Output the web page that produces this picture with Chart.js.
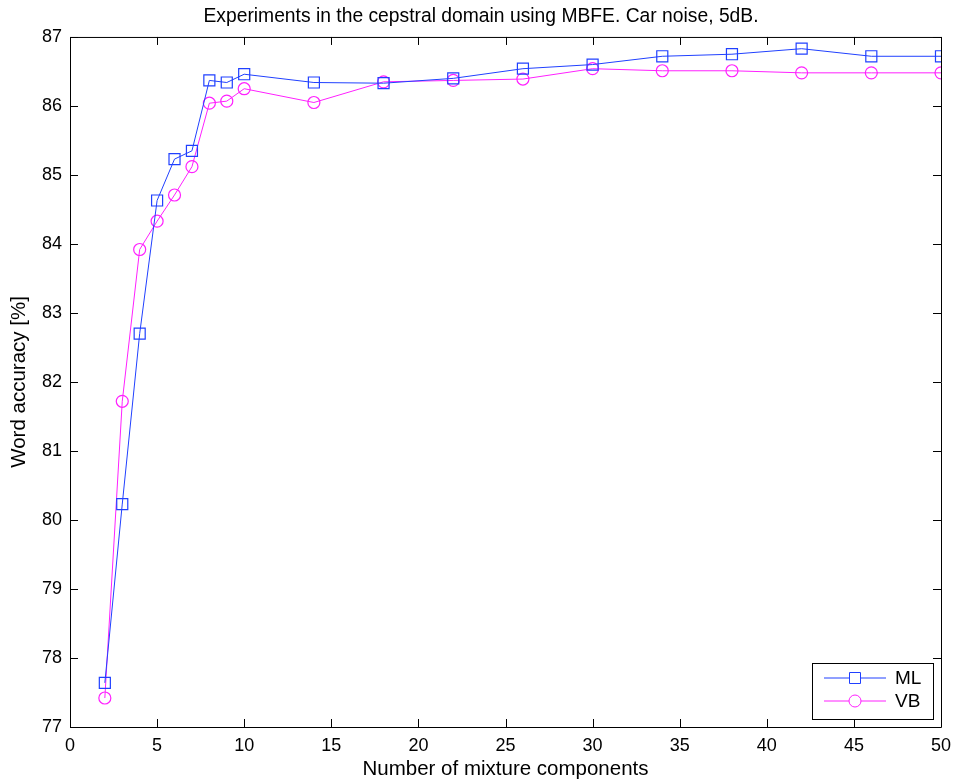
<!DOCTYPE html>
<html>
<head>
<meta charset="utf-8">
<script src="https://cdn.jsdelivr.net/npm/chart.js@4"></script>
<style>
  html, body { margin: 0; padding: 0; background: #fff; }
</style>
</head>
<body>
<canvas id="grafico" width="962" height="784"></canvas>
<script>
const components = [2, 3, 4, 5, 6, 7, 8, 9, 10, 14, 18, 22, 26, 30, 34, 38, 42, 46, 50];
const accML = [77.64, 80.23, 82.70, 84.63, 85.23, 85.35, 86.37, 86.34, 86.46, 86.34, 86.33, 86.40, 86.54, 86.60, 86.72, 86.75, 86.83, 86.72, 86.72];
const accVB = [77.42, 81.72, 83.92, 84.33, 84.71, 85.12, 86.04, 86.07, 86.25, 86.05, 86.35, 86.37, 86.39, 86.54, 86.51, 86.51, 86.48, 86.48, 86.48];
const xTicks = [0, 5, 10, 15, 20, 25, 30, 35, 40, 45, 50];
const yTicks = [77, 78, 79, 80, 81, 82, 83, 84, 85, 86, 87];

const corML = '#2040ff';
const corVB = '#ff20ff';
const fonte = '"Liberation Sans", Arial, Helvetica, sans-serif';

function pontos(ys) {
  return components.map((x, i) => ({ x: x, y: ys[i] }));
}

// moldura estilo matlab: caixa completa + ticks para dentro
const moldura = {
  id: 'moldura',
  afterDraw(chart) {
    const ctx = chart.ctx;
    const a = chart.chartArea;
    const sx = chart.scales.x, sy = chart.scales.y;
    const tl = 8;
    ctx.save();
    ctx.strokeStyle = '#000';
    ctx.lineWidth = 1;
    ctx.beginPath();
    ctx.rect(a.left + 0.5, a.top + 0.5, a.right - a.left, a.bottom - a.top);
    xTicks.forEach(v => {
      const px = Math.round(sx.getPixelForValue(v)) + 0.5;
      ctx.moveTo(px, a.bottom); ctx.lineTo(px, a.bottom - tl);
      ctx.moveTo(px, a.top); ctx.lineTo(px, a.top + tl);
    });
    yTicks.forEach(v => {
      const py = Math.round(sy.getPixelForValue(v)) + 0.5;
      ctx.moveTo(a.left, py); ctx.lineTo(a.left + tl, py);
      ctx.moveTo(a.right, py); ctx.lineTo(a.right - tl, py);
    });
    ctx.stroke();
    ctx.restore();
  }
};

// legenda dentro da area, canto inferior direito
const legendaBox = {
  id: 'legendaBox',
  afterDraw(chart) {
    const ctx = chart.ctx;
    const a = chart.chartArea;
    const w = 121, h = 56;
    const x0 = a.right - 8 - w, y0 = a.bottom - 8 - h;
    ctx.save();
    ctx.fillStyle = '#fff';
    ctx.fillRect(x0, y0, w, h);
    ctx.strokeStyle = '#000';
    ctx.lineWidth = 1;
    ctx.strokeRect(Math.round(x0) + 0.5, Math.round(y0) + 0.5, w, h);
    ctx.font = '19px ' + fonte;
    ctx.textBaseline = 'middle';
    chart.data.datasets.forEach((ds, i) => {
      const cy = y0 + 15 + i * 23;
      const lx = x0 + 12;
      ctx.strokeStyle = ds.borderColor;
      ctx.lineWidth = 1;
      ctx.beginPath();
      ctx.moveTo(lx, cy); ctx.lineTo(lx + 62, cy);
      ctx.stroke();
      const mx = lx + 31;
      ctx.beginPath();
      if (ds.pointStyle === 'rect') {
        ctx.rect(mx - 5.5, cy - 5.5, 11, 11);
      } else {
        ctx.arc(mx, cy, 6, 0, Math.PI * 2);
      }
      ctx.fillStyle = '#fff';
      ctx.fill();
      ctx.stroke();
      ctx.fillStyle = '#000';
      ctx.fillText(ds.label, lx + 71, cy + 1);
    });
    ctx.restore();
  }
};

new Chart(document.getElementById('grafico'), {
  type: 'line',
  data: {
    datasets: [
      {
        label: 'ML',
        data: pontos(accML),
        borderColor: corML,
        backgroundColor: 'rgba(0,0,0,0)',
        borderWidth: 1,
        pointStyle: 'rect',
        pointRadius: 7.8,
        pointBorderWidth: 1.2,
        pointBackgroundColor: 'rgba(0,0,0,0)',
        pointBorderColor: corML,
        tension: 0
      },
      {
        label: 'VB',
        data: pontos(accVB),
        borderColor: corVB,
        backgroundColor: 'rgba(0,0,0,0)',
        borderWidth: 1,
        pointStyle: 'circle',
        pointRadius: 6,
        pointBorderWidth: 1.2,
        pointBackgroundColor: 'rgba(0,0,0,0)',
        pointBorderColor: corVB,
        tension: 0
      }
    ]
  },
  options: {
    responsive: false,
    animation: false,
    layout: { padding: 0 },
    plugins: {
      legend: { display: false },
      tooltip: { enabled: false },
      title: {
        display: true,
        text: 'Experiments in the cepstral domain using MBFE. Car noise, 5dB.',
        color: '#000',
        font: { family: fonte, size: 19.3, weight: 'normal' },
        padding: { top: 5, bottom: 8.8 }
      }
    },
    scales: {
      x: {
        type: 'linear',
        min: 0,
        max: 50,
        afterBuildTicks(scale) { scale.ticks = xTicks.map(v => ({ value: v })); },
        afterFit(scale) { scale.height = 57; },
        grid: { display: false, drawTicks: false },
        border: { display: false },
        ticks: {
          color: '#000',
          padding: 8,
          maxRotation: 0,
          font: { family: fonte, size: 18 }
        },
        title: {
          display: true,
          text: 'Number of mixture components',
          color: '#000',
          font: { family: fonte, size: 20.5 },
          padding: { top: 0, bottom: 2.5 }
        }
      },
      y: {
        type: 'linear',
        min: 77,
        max: 87,
        afterBuildTicks(scale) { scale.ticks = yTicks.map(v => ({ value: v })); },
        afterFit(scale) { scale.width = 70; },
        grid: { display: false, drawTicks: false },
        border: { display: false },
        ticks: {
          color: '#000',
          padding: 8,
          font: { family: fonte, size: 18 }
        },
        title: {
          display: true,
          text: 'Word accuracy [%]',
          color: '#000',
          font: { family: fonte, size: 20.5 },
          padding: { top: 7, bottom: 0 }
        }
      },
      // eixo vazio a direita so para reservar a margem
      margemDir: {
        type: 'linear',
        position: 'right',
        min: 77,
        max: 87,
        afterFit(scale) { scale.width = 21; },
        grid: { display: false, drawTicks: false },
        border: { display: false },
        ticks: { display: false }
      }
    }
  },
  plugins: [moldura, legendaBox]
});
</script>
</body>
</html>
